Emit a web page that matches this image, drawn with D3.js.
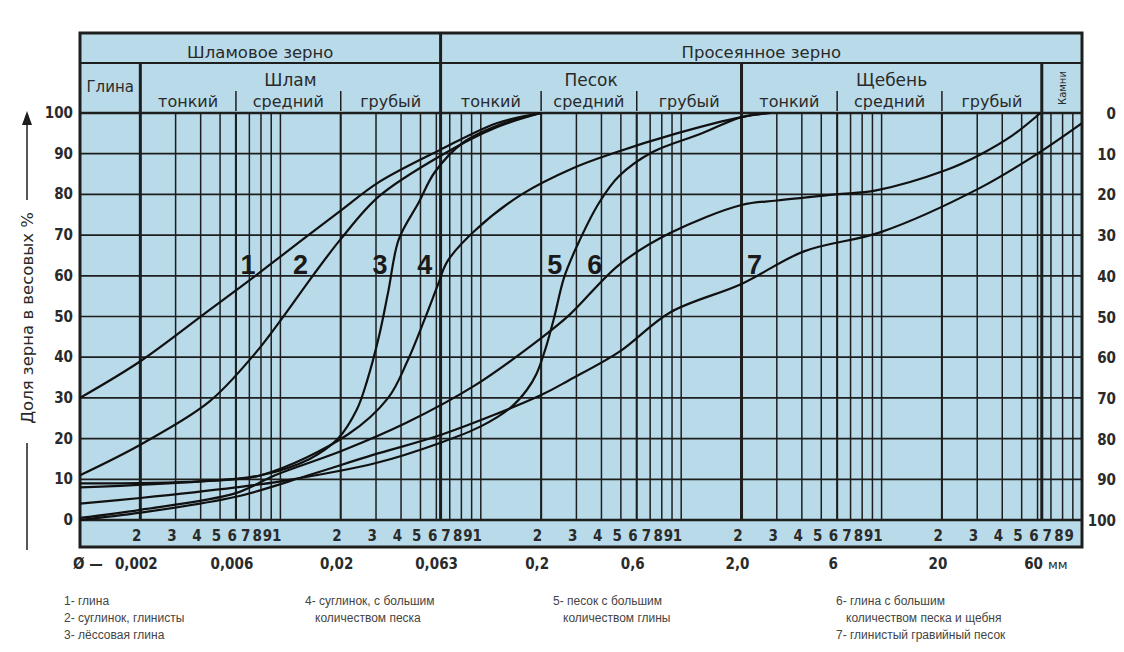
<!DOCTYPE html>
<html>
<head>
<meta charset="utf-8">
<script src="https://cdn.jsdelivr.net/npm/d3@7"></script>
<style>
  body { margin: 0; background: #fff; }
  text { font-family: "DejaVu Sans", "Liberation Sans", Arial, sans-serif; fill: #2a2a2a; }
  .num { font-weight: bold; font-family: "Liberation Sans Narrow", "DejaVu Sans Condensed", "Liberation Sans", sans-serif; }
  .legend { font-family: "Liberation Sans", Arial, sans-serif; }
</style>
</head>
<body>
<div id="chart"></div>
<script>
// grain size classes (mm)
var groups = ['Шламовое зерно', 'Просеянное зерно'];
var groupBounds = [0.001, 0.063, 100];
var fractions = ['Глина', 'Шлам', 'Песок', 'Щебень', 'Камни'];
var fractionBounds = [0.001, 0.002, 0.063, 2, 63, 100];
var subNames = ['тонкий', 'средний', 'грубый'];
var subBounds = [
  [0.002, 0.006, 0.02, 0.063],
  [0.063, 0.2, 0.6, 2],
  [2, 6, 20, 63]
];
var sizeLabelValues = [0.002, 0.006, 0.02, 0.063, 0.2, 0.6, 2, 6, 20, 60];
var sizeLabels = ['0,002', '0,006', '0,02', '0,063', '0,2', '0,6', '2,0', '6', '20', '60'];
var pctTicks = [0, 10, 20, 30, 40, 50, 60, 70, 80, 90, 100];

// grading curves: [diameter mm, passing %]
var curve1 = [[0.001, 30], [0.002, 39], [0.0044, 51.5], [0.0075, 60], [0.0126, 68.5], [0.02, 76], [0.031, 83], [0.063, 91], [0.12, 97.5], [0.2, 100]];
var curve2 = [[0.001, 11], [0.002, 18.5], [0.0044, 29], [0.0075, 41], [0.01, 49], [0.0145, 60], [0.02, 69], [0.031, 79.5], [0.063, 89.5], [0.12, 96.5], [0.2, 100]];
var curve3 = [[0.001, 9], [0.004, 9.5], [0.008, 11], [0.014, 15], [0.0194, 20], [0.024, 27], [0.027, 34], [0.031, 45], [0.0345, 56], [0.039, 69], [0.049, 78], [0.059, 85.5], [0.083, 93], [0.13, 97.5], [0.2, 100]];
var curve4 = [[0.001, 8], [0.004, 9.5], [0.008, 11], [0.0217, 21], [0.0345, 30], [0.043, 39], [0.0527, 49.6], [0.061, 57.7], [0.068, 63.5], [0.093, 71], [0.16, 80], [0.29, 86.5], [0.45, 90], [0.95, 95], [2, 99], [2.8, 100]];
var curve5 = [[0.001, 4], [0.002, 5.4], [0.006, 8], [0.01, 9.5], [0.03, 14], [0.063, 19], [0.1, 23], [0.14, 27.5], [0.17, 32], [0.19, 36], [0.21, 42], [0.233, 50], [0.26, 59.5], [0.3, 67], [0.39, 78], [0.49, 84.5], [0.72, 90.4], [1.27, 95], [2, 99], [2.8, 100]];
var curve6 = [[0.001, 0.5], [0.002, 2.5], [0.006, 6.6], [0.0094, 11], [0.0203, 17], [0.043, 24], [0.093, 33], [0.2, 44.7], [0.277, 50.4], [0.49, 62.7], [0.88, 70.5], [2, 77.4], [3, 78.5], [5.9, 80], [9.4, 81], [21, 86], [30.8, 89.7], [45, 94.5], [62, 100]];
var curve7 = [[0.001, 0], [0.002, 1.8], [0.006, 5.7], [0.0138, 11], [0.029, 16], [0.064, 21], [0.2, 30.7], [0.277, 34.4], [0.49, 41.3], [0.88, 51], [2, 58], [4.1, 66], [10, 70.8], [31, 81.6], [60, 90], [100, 97.5]];
var curves = [curve1, curve2, curve3, curve4, curve5, curve6, curve7];
var curveNames = ['1', '2', '3', '4', '5', '6', '7'];
var curveLabelD = [0.0069, 0.0126, 0.0314, 0.0526, 0.234, 0.37, 2.32];
var curveLabelP = 63;

var legendItems = [
  ['1- глина', '2- суглинок, глинисты', '3- лёссовая глина'],
  ['4- суглинок, с большим', '   количеством песка'],
  ['5- песок с большим', '   количеством глины'],
  ['6- глина с большим', '   количеством песка и щебня', '7- глинистый гравийный песок']
];
var legendX = [64, 305, 553, 836];

var W = 1124, H = 652;
var left = 80, right = 1082, topY = 33, rowSplit = 63, bandBottom = 547;
var blue = '#b9dbe9', ink = '#1e1e1e';

var svg = d3.select('#chart').append('svg').attr('width', W).attr('height', H);

var x = d3.scaleLog().domain([0.001, 100]).range([left, right]);
var y = d3.scaleLinear().domain([0, 100]).range([520, 113]);

svg.append('rect').attr('x', left).attr('y', topY).attr('width', right - left).attr('height', bandBottom - topY)
  .attr('fill', blue);

// grid
var g = svg.append('g').attr('stroke', ink).attr('fill', 'none');
var medium = [0.006, 0.02, 0.2, 0.6, 6, 20];
x.ticks().filter(function(d) { return d > 0.0011 && d < 99; }).forEach(function(d) {
  var isMed = medium.some(function(m) { return Math.abs(m / d - 1) < 0.01; });
  g.append('line').attr('x1', x(d)).attr('x2', x(d)).attr('y1', y(100)).attr('y2', y(0))
    .attr('stroke-width', isMed ? 2.1 : 1.5);
});
pctTicks.forEach(function(p) {
  g.append('line').attr('x1', left).attr('x2', right).attr('y1', y(p)).attr('y2', y(p))
    .attr('stroke-width', (p === 0 || p === 100) ? 2.5 : 1.7);
});
// main boundaries
fractionBounds.slice(1, -1).forEach(function(d) {
  g.append('line').attr('x1', x(d)).attr('x2', x(d)).attr('y1', d === 0.063 ? topY : rowSplit).attr('y2', y(0))
    .attr('stroke-width', 3);
});
g.append('line').attr('x1', left).attr('x2', right).attr('y1', rowSplit).attr('y2', rowSplit).attr('stroke-width', 2);
g.append('rect').attr('x', left).attr('y', topY).attr('width', right - left).attr('height', bandBottom - topY)
  .attr('stroke-width', 3);

// header texts
groups.forEach(function(t, i) {
  svg.append('text').attr('x', (x(groupBounds[i]) + x(groupBounds[i + 1])) / 2).attr('y', 58)
    .attr('text-anchor', 'middle').attr('font-size', 16.5).text(t);
});
fractions.forEach(function(t, i) {
  var cx = (x(fractionBounds[i]) + x(fractionBounds[i + 1])) / 2;
  if (i === 4) {
    svg.append('text').attr('transform', 'translate(' + (cx + 4) + ',88) rotate(-90)')
      .attr('text-anchor', 'middle').attr('font-size', 10).text(t);
  } else {
    svg.append('text').attr('x', cx).attr('y', i === 0 ? 92 : 86)
      .attr('text-anchor', 'middle').attr('font-size', i === 0 ? 15 : 17).text(t);
  }
});
subBounds.forEach(function(b) {
  subNames.forEach(function(t, j) {
    svg.append('text').attr('x', (x(b[j]) + x(b[j + 1])) / 2).attr('y', 107)
      .attr('text-anchor', 'middle').attr('font-size', 16).text(t);
  });
  [b[1], b[2]].forEach(function(d) {
    g.append('line').attr('x1', x(d)).attr('x2', x(d)).attr('y1', 91).attr('y2', 111).attr('stroke-width', 1.5);
  });
});

// curves
var line = d3.line().x(function(d) { return x(d[0]); }).y(function(d) { return y(d[1]); })
  .curve(d3.curveCatmullRom.alpha(0.5));
svg.append('g').selectAll('path').data(curves).enter().append('path')
  .attr('d', line).attr('fill', 'none').attr('stroke', '#111').attr('stroke-width', 2.2);

svg.append('g').selectAll('text').data(curveNames).enter().append('text')
  .attr('x', function(d, i) { return x(curveLabelD[i]); }).attr('y', y(curveLabelP) + 10)
  .attr('text-anchor', 'middle').attr('font-size', 27).attr('font-weight', 'bold')
  .style('font-family', '"Liberation Sans", Arial, sans-serif')
  .style('fill', '#1a1a1a').text(function(d) { return d; });

// left / right percent labels
svg.append('g').selectAll('text').data(pctTicks).enter().append('text').attr('class', 'num')
  .attr('x', 73).attr('y', function(d) { return y(d) + 5; }).attr('text-anchor', 'end')
  .attr('font-size', 15).text(function(d) { return d; });
svg.append('g').selectAll('text').data(pctTicks).enter().append('text').attr('class', 'num')
  .attr('x', 1116).attr('y', function(d) { return y(d) + 6; }).attr('text-anchor', 'end')
  .attr('font-size', 15).text(function(d) { return 100 - d; });

// bottom band: digits of the log ticks
svg.append('g').selectAll('text').data(x.ticks().filter(function(d) { return d > 0.0011 && d < 99; }))
  .enter().append('text').attr('class', 'num')
  .attr('x', function(d) { return x(d) + 1; }).attr('y', 541).attr('text-anchor', 'end')
  .attr('font-size', 15).text(function(d) { return String(Math.round(d / Math.pow(10, Math.floor(Math.log10(d) + 1e-9)))); });

svg.append('g').selectAll('text').data(sizeLabels).enter().append('text').attr('class', 'num')
  .attr('x', function(d, i) { return x(sizeLabelValues[i]) - 4; }).attr('y', 569)
  .attr('text-anchor', 'middle').attr('font-size', 15).text(function(d) { return d; });
svg.append('text').attr('class', 'num').attr('x', 73).attr('y', 569).attr('font-size', 15).text('Ø —');
svg.append('text').attr('x', 1048).attr('y', 569).attr('font-size', 13).text('мм');

// y title with arrow
var yt = svg.append('g');
yt.append('line').attr('x1', 27).attr('x2', 27).attr('y1', 124).attr('y2', 200).attr('stroke', ink).attr('stroke-width', 1.5);
yt.append('path').attr('d', 'M27,111 L22,125 L32,125 Z').attr('fill', ink);
yt.append('line').attr('x1', 27).attr('x2', 27).attr('y1', 443).attr('y2', 550).attr('stroke', ink).attr('stroke-width', 1.5);
yt.append('text').attr('transform', 'translate(33,318) rotate(-90)').attr('text-anchor', 'middle')
  .attr('font-size', 16.5).text('Доля зерна в весовых %');

// legend
legendItems.forEach(function(col, i) {
  col.forEach(function(t, j) {
    svg.append('text').attr('class', 'legend').attr('x', legendX[i]).attr('y', 605 + j * 17).attr('font-size', 12)
      .style('fill', '#444').attr('xml:space', 'preserve').text(t);
  });
});
</script>
</body>
</html>
